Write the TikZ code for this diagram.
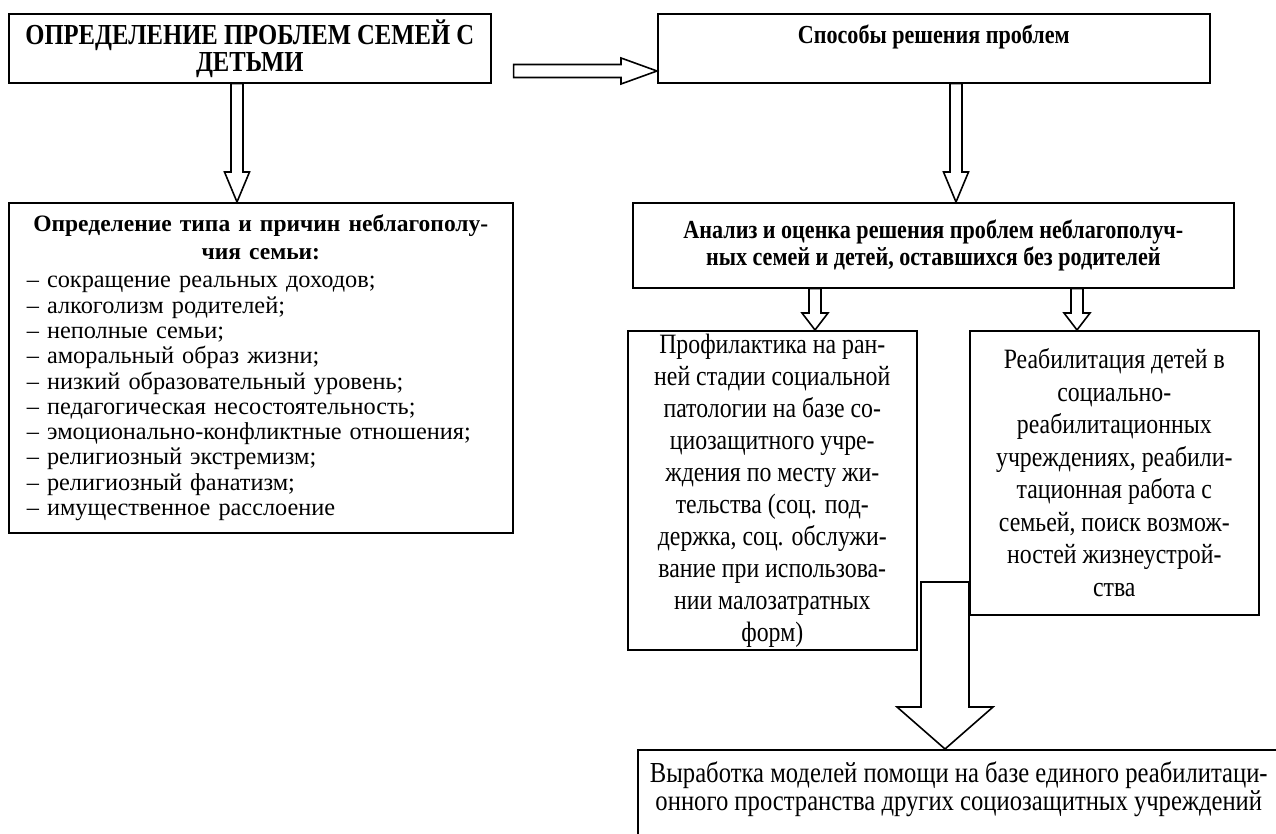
\documentclass[tikz,border=0pt]{standalone}
\usepackage{fontspec}
\setmainfont{Liberation Serif}
\newfontfamily\narrowfont[FakeStretch=0.85]{Liberation Serif}
\usetikzlibrary{calc}

\newcommand{\blkdown}[5]{\draw[blk] let \p1=(#1), \p2=(#2) in (\x2-#3,\y1) -- (\x2-#3,\y2+#5) -- (\x2-#4,\y2+#5) -- (\x2,\y2) -- (\x2+#4,\y2+#5) -- (\x2+#3,\y2+#5) -- (\x2+#3,\y1) -- cycle;}
\newcommand{\blkright}[5]{\draw[blk] let \p1=(#1), \p2=(#2) in (\x1,\y2+#3) -- (\x2-#5,\y2+#3) -- (\x2-#5,\y2+#4) -- (\x2,\y2) -- (\x2-#5,\y2-#4) -- (\x2-#5,\y2-#3) -- (\x1,\y2-#3) -- cycle;}

\begin{document}
\begin{tikzpicture}[x=1pt, y=-1pt, box/.style={draw, line width=1.6pt, anchor=north west, inner sep=4pt, align=center}, narrow/.style={font=\narrowfont\fontsize{28}{32.5}\selectfont}, narrowbf/.style={font=\narrowfont\bfseries\fontsize{26}{27.5}\selectfont}, blk/.style={draw, line width=1.6pt, fill=white, line join=miter}]
\clip (0,0) rectangle (1276,834);
\node[box, narrowbf, minimum width=482pt, minimum height=69pt, font=\narrowfont\bfseries\fontsize{29}{27}\selectfont] (probl) at (8,13) {ОПРЕДЕЛЕНИЕ ПРОБЛЕМ СЕМЕЙ С\\ДЕТЬМИ};
\node[box, narrowbf, minimum width=552pt, minimum height=69pt] (ways) at (657,13) {Способы решения проблем\\\mbox{}};
\node[box, align=left, text width=468pt, inner xsep=18pt, minimum height=330pt, font=\fontsize{24.3}{25.3}\selectfont] (typ) at (8,202) {{\fontsize{23.5}{28}\selectfont\bfseries\centering Определение типа и причин неблагополу-\\чия семьи:\par}\vspace{3pt}– сокращение реальных доходов;\\– алкоголизм родителей;\\– неполные семьи;\\– аморальный образ жизни;\\– низкий образовательный уровень;\\– педагогическая несостоятельность;\\– эмоционально-конфликтные отношения;\\– религиозный экстремизм;\\– религиозный фанатизм;\\– имущественное расслоение};
\node[box, narrowbf, minimum width=601pt, minimum height=85pt] (anal) at (632,202) {Анализ и оценка решения проблем неблагополуч-\\ных семей и детей, оставшихся без родителей};
\node[box, narrow, minimum width=289pt, minimum height=319pt, inner ysep=1pt, font=\narrowfont\fontsize{28}{32}\selectfont] (prof) at (627,330) {Профилактика на ран-\\ней стадии социальной\\патологии на базе со-\\циозащитного учре-\\ждения по месту жи-\\тельства (соц. под-\\держка, соц. обслужи-\\вание при использова-\\нии малозатратных\\форм)};
\node[box, narrow, minimum width=289pt, minimum height=284pt] (reab) at (969,330) {Реабилитация детей в\\социально-\\реабилитационных\\учреждениях, реабили-\\тационная работа с\\семьей, поиск возмож-\\ностей жизнеустрой-\\ства};
\node[box, narrow, minimum width=642pt, inner ysep=12pt, font=\narrowfont\fontsize{29}{28}\selectfont] (model) at (637,749) {Выработка моделей помощи на базе единого реабилитаци-\\онного пространства других социозащитных учреждений\\\mbox{}\\\mbox{}};
\blkright{[xshift=22pt]probl.east}{ways.west |- 0,71}{6.5pt}{13pt}{36pt}
\blkdown{probl.south}{237,0 |- typ.north}{6pt}{12.5pt}{30pt}
\blkdown{ways.south}{956,0 |- anal.north}{6pt}{12.5pt}{30pt}
\blkdown{anal.south}{815,0 |- prof.north}{6pt}{13pt}{17pt}
\blkdown{anal.south}{1077,0 |- reab.north}{6pt}{13pt}{17pt}
\draw[blk] let \p1=(reab.west |- 0,582), \p2=(945,0 |- model.north) in (\x1,\y1) -- (\x1-48pt,\y1) -- (\x1-48pt,\y2+42pt) -- (\x2-48pt,\y2+42pt) -- (\x2,\y2) -- (\x2+48pt,\y2+42pt) -- (\x1,\y2+42pt) -- cycle;
\end{tikzpicture}
\end{document}
